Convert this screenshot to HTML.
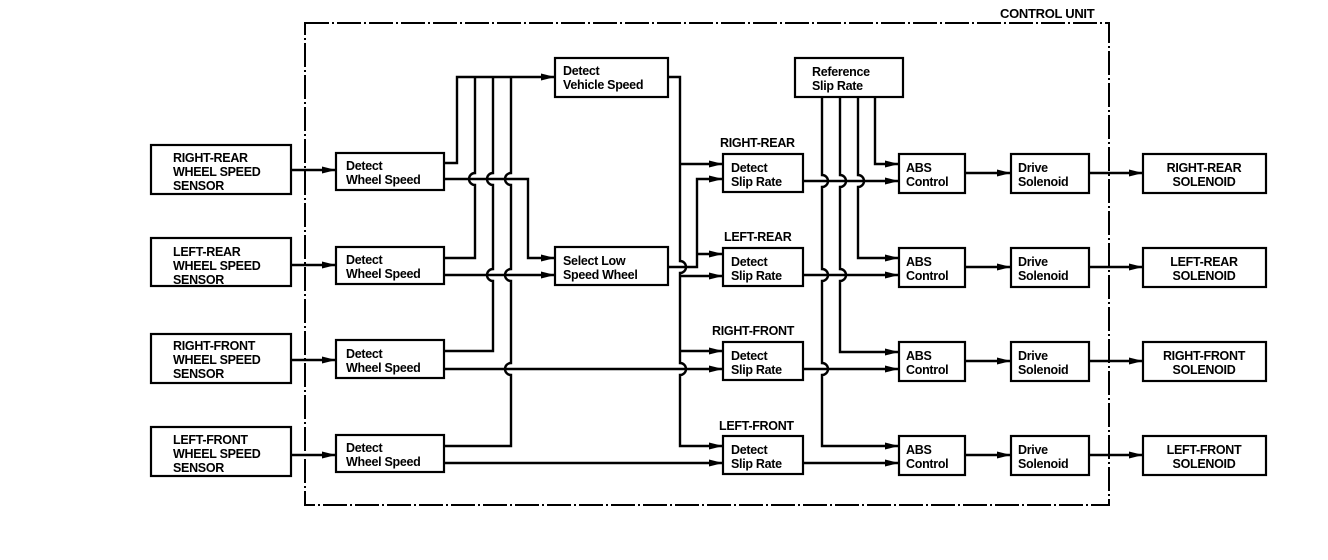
<!DOCTYPE html>
<html><head><meta charset="utf-8"><style>
html,body{margin:0;padding:0;background:#fff;}
svg{display:block;}
text{font-family:"Liberation Sans",Arial,sans-serif;font-weight:bold;font-size:12.5px;fill:#000;letter-spacing:-0.3px;}
</style></head><body>
<svg width="1328" height="560" viewBox="0 0 1328 560" xmlns="http://www.w3.org/2000/svg">
<defs>
<marker id="a" markerWidth="14" markerHeight="10" refX="13" refY="5" orient="auto" markerUnits="userSpaceOnUse">
<path d="M0,1.5 L14,5 L0,8.5 Z" fill="#000"/></marker>
</defs>
<!-- control unit -->
<rect x="305" y="23" width="804" height="482" fill="none" stroke="#000" stroke-width="2" stroke-dasharray="24,3,2,3"/>
<text x="1000" y="18" style="font-size:13px">CONTROL UNIT</text>

<g fill="none" stroke="#000" stroke-width="2.2">
<!-- sensors -->
<rect x="151" y="145" width="140" height="49"/>
<rect x="151" y="238" width="140" height="48"/>
<rect x="151" y="334" width="140" height="49"/>
<rect x="151" y="427" width="140" height="49"/>
<!-- detect wheel speed -->
<rect x="336" y="153" width="108" height="37"/>
<rect x="336" y="247" width="108" height="37"/>
<rect x="336" y="340" width="108" height="38"/>
<rect x="336" y="435" width="108" height="37"/>
<!-- vehicle speed, select low -->
<rect x="555" y="58" width="113" height="39"/>
<rect x="555" y="247" width="113" height="38"/>
<!-- slip rate -->
<rect x="723" y="154" width="80" height="38"/>
<rect x="723" y="248" width="80" height="38"/>
<rect x="723" y="342" width="80" height="38"/>
<rect x="723" y="436" width="80" height="38"/>
<!-- reference -->
<rect x="795" y="58" width="108" height="39"/>
<!-- ABS, drive, solenoid -->
<rect x="899" y="154" width="66" height="39"/>
<rect x="899" y="248" width="66" height="39"/>
<rect x="899" y="342" width="66" height="39"/>
<rect x="899" y="436" width="66" height="39"/>
<rect x="1011" y="154" width="78" height="39"/>
<rect x="1011" y="248" width="78" height="39"/>
<rect x="1011" y="342" width="78" height="39"/>
<rect x="1011" y="436" width="78" height="39"/>
<rect x="1143" y="154" width="123" height="39"/>
<rect x="1143" y="248" width="123" height="39"/>
<rect x="1143" y="342" width="123" height="39"/>
<rect x="1143" y="436" width="123" height="39"/>
</g>

<g fill="none" stroke="#000" stroke-width="2.4">
<!-- sensor arrows -->
<path d="M291,170 H335" marker-end="url(#a)"/>
<path d="M291,265 H335" marker-end="url(#a)"/>
<path d="M291,360 H335" marker-end="url(#a)"/>
<path d="M291,455 H335" marker-end="url(#a)"/>
<!-- upper outputs to vehicle speed -->
<path d="M444,163 H457 V77 H554" marker-end="url(#a)"/>
<path d="M444,258 H475 V185 a6,6 0 0 1 0,-12 V77"/>
<path d="M444,351 H493 V281 a6,6 0 0 1 0,-12 V185 a6,6 0 0 1 0,-12 V77"/>
<path d="M444,446 H511 V375 a6,6 0 0 1 0,-12 V281 a6,6 0 0 1 0,-12 V185 a6,6 0 0 1 0,-12 V77"/>
<!-- lower outputs -->
<path d="M444,179 H528 V258 H554" marker-end="url(#a)"/>
<path d="M444,275 H554" marker-end="url(#a)"/>
<path d="M444,369 H722" marker-end="url(#a)"/>
<path d="M444,463 H722" marker-end="url(#a)"/>
<!-- vehicle speed bus -->
<path d="M668,77 H680 V261 a6,6 0 0 1 0,12 V363 a6,6 0 0 1 0,12 V446 H722" marker-end="url(#a)"/>
<path d="M680,164 H722" marker-end="url(#a)"/>
<path d="M680,276 H722" marker-end="url(#a)"/>
<path d="M680,351 H722" marker-end="url(#a)"/>
<!-- select low output -->
<path d="M668,267 H697 V179 H722" marker-end="url(#a)"/>
<path d="M697,254 H722" marker-end="url(#a)"/>
<!-- slip outputs -->
<path d="M803,181 H898" marker-end="url(#a)"/>
<path d="M803,275 H898" marker-end="url(#a)"/>
<path d="M803,369 H898" marker-end="url(#a)"/>
<path d="M803,463 H898" marker-end="url(#a)"/>
<!-- reference slip -->
<path d="M875,97 V164 H898" marker-end="url(#a)"/>
<path d="M858,97 V175 a6,6 0 0 1 0,12 V258 H898" marker-end="url(#a)"/>
<path d="M840,97 V175 a6,6 0 0 1 0,12 V269 a6,6 0 0 1 0,12 V352 H898" marker-end="url(#a)"/>
<path d="M822,97 V175 a6,6 0 0 1 0,12 V269 a6,6 0 0 1 0,12 V363 a6,6 0 0 1 0,12 V446 H898" marker-end="url(#a)"/>
<!-- abs -> drive -> solenoid -->
<path d="M965,173 H1010" marker-end="url(#a)"/>
<path d="M965,267 H1010" marker-end="url(#a)"/>
<path d="M965,361 H1010" marker-end="url(#a)"/>
<path d="M965,455 H1010" marker-end="url(#a)"/>
<path d="M1089,173 H1142" marker-end="url(#a)"/>
<path d="M1089,267 H1142" marker-end="url(#a)"/>
<path d="M1089,361 H1142" marker-end="url(#a)"/>
<path d="M1089,455 H1142" marker-end="url(#a)"/>
</g>

<!-- sensor text -->
<text x="173" y="162">RIGHT-REAR</text><text x="173" y="176">WHEEL SPEED</text><text x="173" y="190">SENSOR</text>
<text x="173" y="256">LEFT-REAR</text><text x="173" y="270">WHEEL SPEED</text><text x="173" y="284">SENSOR</text>
<text x="173" y="350">RIGHT-FRONT</text><text x="173" y="364">WHEEL SPEED</text><text x="173" y="378">SENSOR</text>
<text x="173" y="444">LEFT-FRONT</text><text x="173" y="458">WHEEL SPEED</text><text x="173" y="472">SENSOR</text>

<text x="346" y="170">Detect</text><text x="346" y="184">Wheel Speed</text>
<text x="346" y="264">Detect</text><text x="346" y="278">Wheel Speed</text>
<text x="346" y="358">Detect</text><text x="346" y="372">Wheel Speed</text>
<text x="346" y="452">Detect</text><text x="346" y="466">Wheel Speed</text>

<text x="563" y="75">Detect</text><text x="563" y="89">Vehicle Speed</text>
<text x="563" y="265">Select Low</text><text x="563" y="279">Speed Wheel</text>

<text x="720" y="147">RIGHT-REAR</text>
<text x="724" y="241">LEFT-REAR</text>
<text x="712" y="335">RIGHT-FRONT</text>
<text x="719" y="430">LEFT-FRONT</text>
<text x="731" y="172">Detect</text><text x="731" y="186">Slip Rate</text>
<text x="731" y="266">Detect</text><text x="731" y="280">Slip Rate</text>
<text x="731" y="360">Detect</text><text x="731" y="374">Slip Rate</text>
<text x="731" y="454">Detect</text><text x="731" y="468">Slip Rate</text>

<text x="812" y="76">Reference</text><text x="812" y="90">Slip Rate</text>

<text x="906" y="172">ABS</text><text x="906" y="186">Control</text>
<text x="906" y="266">ABS</text><text x="906" y="280">Control</text>
<text x="906" y="360">ABS</text><text x="906" y="374">Control</text>
<text x="906" y="454">ABS</text><text x="906" y="468">Control</text>

<text x="1018" y="172">Drive</text><text x="1018" y="186">Solenoid</text>
<text x="1018" y="266">Drive</text><text x="1018" y="280">Solenoid</text>
<text x="1018" y="360">Drive</text><text x="1018" y="374">Solenoid</text>
<text x="1018" y="454">Drive</text><text x="1018" y="468">Solenoid</text>

<text x="1204" y="172" text-anchor="middle">RIGHT-REAR</text><text x="1204" y="186" text-anchor="middle">SOLENOID</text>
<text x="1204" y="266" text-anchor="middle">LEFT-REAR</text><text x="1204" y="280" text-anchor="middle">SOLENOID</text>
<text x="1204" y="360" text-anchor="middle">RIGHT-FRONT</text><text x="1204" y="374" text-anchor="middle">SOLENOID</text>
<text x="1204" y="454" text-anchor="middle">LEFT-FRONT</text><text x="1204" y="468" text-anchor="middle">SOLENOID</text>
</svg>
</body></html>
